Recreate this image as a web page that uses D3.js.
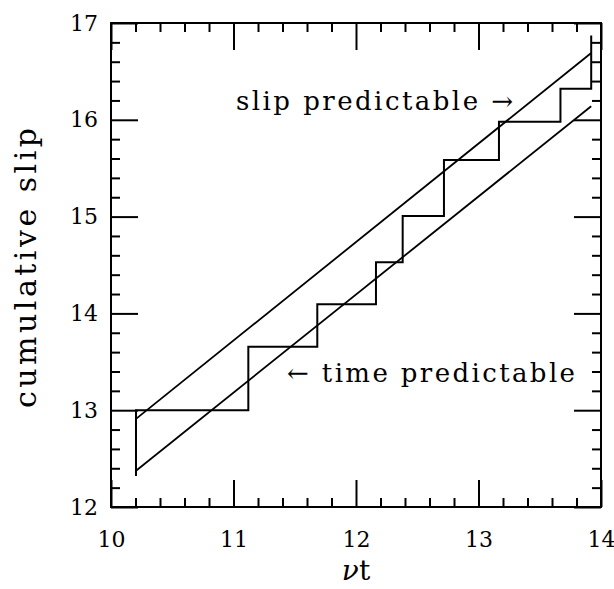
<!DOCTYPE html>
<html>
<head>
<meta charset="utf-8">
<script src="https://cdn.jsdelivr.net/npm/d3@7"></script>
<style>
  body { margin: 0; background: #fff; }
  svg text { font-family: "DejaVu Serif", serif; fill: #000; }
  .tick line { stroke: #000; stroke-width: 2; }
</style>
</head>
<body>
<svg width="614" height="589"></svg>
<script>
// staircase: event times (nu t) and cumulative slip after each event
var eventTime = [10.204, 10.204, 11.121, 11.684, 12.163, 12.381, 12.718, 13.167, 13.669, 13.92];
var cumSlip   = [12.32, 13.0, 13.656, 14.094, 14.528, 15.006, 15.585, 15.98, 16.32, 16.87];

// model lines
var slipPredX = [10.204, 13.92];
var slipPredY = [12.91, 16.69];
var timePredX = [10.204, 13.92];
var timePredY = [12.375, 16.14];

var xMajor = [10, 11, 12, 13, 14];
var yMajor = [12, 13, 14, 15, 16, 17];
var xMinor = d3.range(10.2, 14, 0.2).filter(function(v){ return Math.abs(v - Math.round(v)) > 0.01; });
var yMinor = d3.range(12.2, 17, 0.2).filter(function(v){ return Math.abs(v - Math.round(v)) > 0.01; });

var svg = d3.select('svg');
var padding = {t: 23, r: 13, b: 82, l: 111};
var chartWidth = 614 - padding.l - padding.r;
var chartHeight = 589 - padding.t - padding.b;

var xScale = d3.scaleLinear().domain([10, 14]).range([0, chartWidth]);
var yScale = d3.scaleLinear().domain([12, 17]).range([chartHeight, 0]);

var chart = svg.append('g')
    .attr('transform', 'translate(' + [padding.l, padding.t] + ')');

function drawAxis(axisFn, scale, major, minor, transform, labels) {
    var g = chart.append('g').attr('transform', transform);
    var maj = axisFn(scale).tickValues(major).tickSize(-27).tickSizeOuter(0);
    if (labels) {
        maj.tickFormat(d3.format('d')).tickPadding(labels);
    } else {
        maj.tickFormat('');
    }
    g.append('g').call(maj);
    g.append('g').call(axisFn(scale).tickValues(minor).tickSize(-9).tickSizeOuter(0).tickFormat(''));
    g.selectAll('.domain').remove();
    g.selectAll('text').attr('font-size', 22).attr('font-family', '"DejaVu Serif", serif');
    return g;
}

drawAxis(d3.axisBottom, xScale, xMajor, xMinor, 'translate(0,' + chartHeight + ')', 24);
drawAxis(d3.axisTop, xScale, xMajor, xMinor, 'translate(0,0)', null);
drawAxis(d3.axisLeft, yScale, yMajor, yMinor, 'translate(0,0)', 13);
drawAxis(d3.axisRight, yScale, yMajor, yMinor, 'translate(' + chartWidth + ',0)', null);

// frame
chart.append('rect')
    .attr('x', 0).attr('y', 0)
    .attr('width', chartWidth).attr('height', chartHeight)
    .attr('fill', 'none').attr('stroke', '#000').attr('stroke-width', 2);

var stairs = eventTime.map(function(t, i){ return [t, cumSlip[i]]; });
var stepLine = d3.line()
    .x(function(d){ return xScale(d[0]); })
    .y(function(d){ return yScale(d[1]); })
    .curve(d3.curveStepAfter);

chart.append('path')
    .datum(stairs)
    .attr('d', stepLine)
    .attr('fill', 'none').attr('stroke', '#000').attr('stroke-width', 2);

var straight = d3.line()
    .x(function(d){ return xScale(d[0]); })
    .y(function(d){ return yScale(d[1]); });

[[slipPredX, slipPredY], [timePredX, timePredY]].forEach(function(s){
    chart.append('path')
        .datum(s[0].map(function(x, i){ return [x, s[1][i]]; }))
        .attr('d', straight)
        .attr('fill', 'none').attr('stroke', '#000').attr('stroke-width', 1.8);
});

// annotations
svg.append('text')
    .attr('x', 236).attr('y', 110)
    .attr('font-size', 26)
    .attr('textLength', 277).attr('lengthAdjust', 'spacing')
    .text('slip predictable \u2192');

svg.append('text')
    .attr('x', 287).attr('y', 382)
    .attr('font-size', 26)
    .attr('textLength', 288).attr('lengthAdjust', 'spacing')
    .text('\u2190 time predictable');

// axis titles
svg.append('text')
    .attr('transform', 'translate(36,268)rotate(-90)')
    .attr('text-anchor', 'middle')
    .attr('font-size', 30)
    .attr('textLength', 280).attr('lengthAdjust', 'spacing')
    .text('cumulative slip');

var xl = svg.append('text')
    .attr('x', padding.l + xScale(12)).attr('y', 580)
    .attr('text-anchor', 'middle')
    .attr('font-size', 28);
xl.append('tspan').attr('font-style', 'italic').text('\u03bd');
xl.append('tspan').text('t');
</script>
</body>
</html>
